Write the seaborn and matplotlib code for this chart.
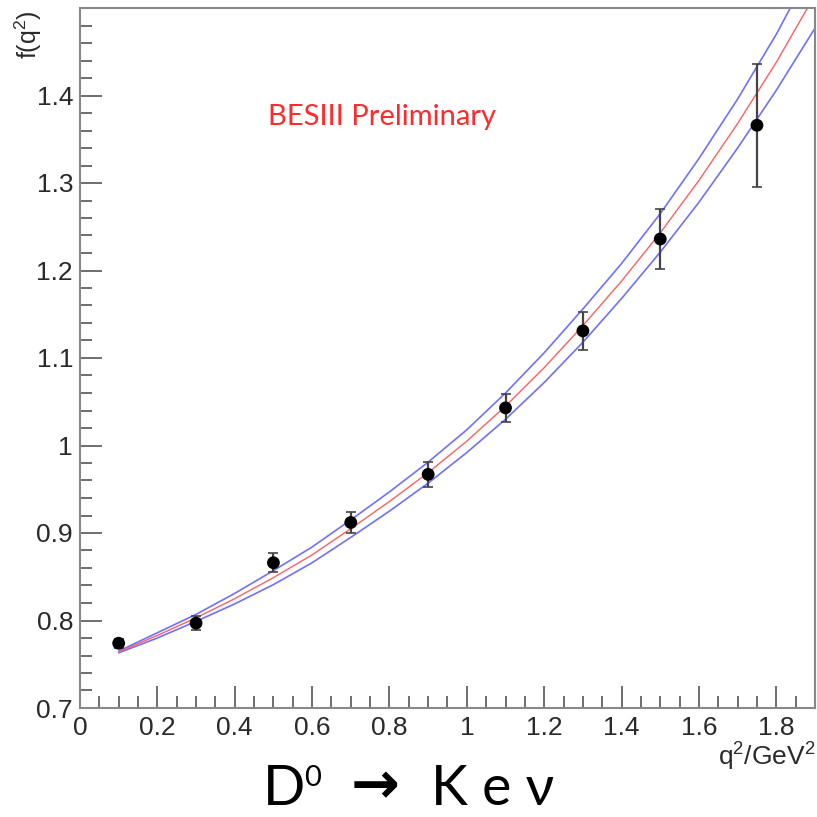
import matplotlib
matplotlib.use("Agg")
import matplotlib.pyplot as plt
import matplotlib.ticker as mticker
import pandas as pd
import seaborn as sns

# measured form factor points (q^2 in GeV^2)
q2_points = [0.1, 0.3, 0.5, 0.7, 0.9, 1.1, 1.3, 1.5, 1.75]
f_points = [0.774, 0.797, 0.866, 0.912, 0.967, 1.043, 1.131, 1.236, 1.366]
f_errors = [0.005, 0.008, 0.011, 0.012, 0.014, 0.016, 0.022, 0.034, 0.070]

# fit curve and its error band
q2_curve = [0.1, 0.2, 0.3, 0.4, 0.5, 0.6, 0.7, 0.8, 0.9, 1.0,
            1.1, 1.2, 1.3, 1.4, 1.5, 1.6, 1.7, 1.8, 1.9]
f_fit = [0.764, 0.783, 0.803, 0.825, 0.849, 0.875, 0.905, 0.936, 0.969, 1.005,
         1.045, 1.089, 1.137, 1.188, 1.243, 1.303, 1.368, 1.438, 1.515]
f_upper = [0.765, 0.786, 0.807, 0.831, 0.857, 0.884, 0.915, 0.947, 0.981, 1.018,
           1.060, 1.106, 1.156, 1.208, 1.265, 1.328, 1.396, 1.470, 1.553]
f_lower = [0.763, 0.780, 0.799, 0.819, 0.841, 0.866, 0.895, 0.925, 0.957, 0.992,
           1.030, 1.072, 1.118, 1.168, 1.221, 1.278, 1.340, 1.406, 1.477]

sns.set_theme(style="white")
plt.rcParams["font.family"] = ["Liberation Sans", "DejaVu Sans"]
plt.rcParams["mathtext.default"] = "regular"

W = 817
fig = plt.figure(figsize=(8.17, 8.17), dpi=100)
ax = fig.add_axes([80 / W, 1 - 708 / W, (815 - 80) / W, (708 - 8) / W])

curves = pd.DataFrame({"q2": q2_curve, "fit": f_fit, "up": f_upper, "lo": f_lower})
sns.lineplot(data=curves, x="q2", y="up", ax=ax, color="#7070ff", lw=1.2)
sns.lineplot(data=curves, x="q2", y="lo", ax=ax, color="#7070ff", lw=1.2)
sns.lineplot(data=curves, x="q2", y="fit", ax=ax, color="#ff6060", lw=1.0)

points = pd.DataFrame({"q2": q2_points, "f": f_points, "err": f_errors})
ax.errorbar(points["q2"], points["f"], yerr=points["err"], fmt="none",
            ecolor="#444444", elinewidth=1.6, capsize=3.5, capthick=1.2, zorder=3)
sns.scatterplot(data=points, x="q2", y="f", ax=ax, color="black", s=85,
                edgecolor="none", zorder=4)

ax.set_xlim(0, 1.9)
ax.set_ylim(0.7, 1.5)
ax.set_xlabel("")
ax.set_ylabel("")

ax.xaxis.set_major_locator(mticker.MultipleLocator(0.2))
ax.xaxis.set_minor_locator(mticker.MultipleLocator(0.05))
ax.yaxis.set_major_locator(mticker.FixedLocator([0.7, 0.8, 0.9, 1.0, 1.1, 1.2, 1.3, 1.4]))
ax.yaxis.set_minor_locator(mticker.MultipleLocator(0.02))
ax.xaxis.set_major_formatter(mticker.FormatStrFormatter("%g"))
ax.yaxis.set_major_formatter(mticker.FuncFormatter(lambda v, p: f"{round(v, 2):g}"))

ax.tick_params(which="both", direction="in", color="#555555", width=1.2,
               labelsize=19, labelcolor="#2a2a2a", bottom=True, left=True,
               top=False, right=False)
ax.tick_params(which="major", length=16)
ax.tick_params(which="minor", length=8.5)
ax.tick_params(axis="y", which="major", pad=5)
ax.tick_params(axis="x", which="major", pad=6)
for spine in ax.spines.values():
    spine.set_color("#888888")
    spine.set_linewidth(1.5)

fig.text(28 / W, 1 - 10 / W, "f(q$^2$)", rotation=90, ha="center", va="top",
         fontsize=18, color="#2a2a2a")
fig.text(815 / W, 1 - 741 / W, "q$^2$/GeV$^2$", ha="right", va="top",
         fontsize=19, color="#2a2a2a")

fig.text(268 / W, 1 - 125 / W, "BESIII Preliminary", ha="left", va="baseline",
         fontsize=21, color="#ff2a2a", family=["Lato", "DejaVu Sans"])

# decay label below the axis
fig.text(263 / W, 1 - 805 / W, "D", ha="left", va="baseline", fontsize=40,
         family=["Lato", "DejaVu Sans"], color="black")
fig.text(304 / W, 1 - 786 / W, "0", ha="left", va="baseline", fontsize=21,
         family=["Lato", "DejaVu Sans"], color="black")
fig.text(375 / W, 1 - 803 / W, "→", ha="center", va="baseline", fontsize=42,
         family=["DejaVu Sans"], fontweight="bold", color="black")
fig.text(431 / W, 1 - 805 / W, "K e ν", ha="left", va="baseline", fontsize=40,
         family=["Lato", "DejaVu Sans"], color="black")

fig.savefig("out.png", dpi=100)
